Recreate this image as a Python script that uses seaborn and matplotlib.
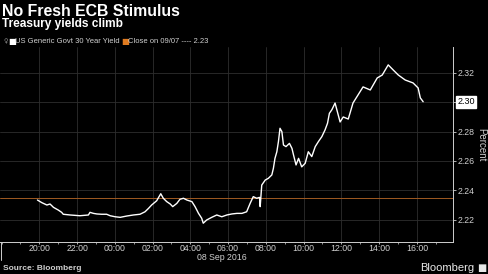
import matplotlib
matplotlib.use("Agg")
import matplotlib.pyplot as plt
import matplotlib.dates as mdates
import seaborn as sns
import pandas as pd
import numpy as np

# ---- data ----
times = [
    "2016-09-07 19:54", "2016-09-07 20:08", "2016-09-07 20:24", "2016-09-07 20:34",
    "2016-09-07 20:45", "2016-09-07 21:00", "2016-09-07 21:11", "2016-09-07 21:16",
    "2016-09-07 21:38", "2016-09-07 22:09", "2016-09-07 22:36", "2016-09-07 22:41",
    "2016-09-07 22:52", "2016-09-07 23:03", "2016-09-07 23:18", "2016-09-07 23:34",
    "2016-09-07 23:45", "2016-09-08 00:01", "2016-09-08 00:17", "2016-09-08 00:38",
    "2016-09-08 00:59", "2016-09-08 01:20", "2016-09-08 01:36", "2016-09-08 01:47",
    "2016-09-08 01:57", "2016-09-08 02:13", "2016-09-08 02:26", "2016-09-08 02:34",
    "2016-09-08 02:45", "2016-09-08 02:56", "2016-09-08 03:04", "2016-09-08 03:17",
    "2016-09-08 03:27", "2016-09-08 03:38", "2016-09-08 03:49", "2016-09-08 04:05",
    "2016-09-08 04:15", "2016-09-08 04:26", "2016-09-08 04:36", "2016-09-08 04:41",
    "2016-09-08 04:52", "2016-09-08 05:08", "2016-09-08 05:24", "2016-09-08 05:40",
    "2016-09-08 05:56", "2016-09-08 06:12", "2016-09-08 06:28", "2016-09-08 06:44",
    "2016-09-08 06:59", "2016-09-08 07:10", "2016-09-08 07:20", "2016-09-08 07:31",
    "2016-09-08 07:40", "2016-09-08 07:42", "2016-09-08 07:47", "2016-09-08 07:58",
    "2016-09-08 08:08", "2016-09-08 08:19", "2016-09-08 08:24", "2016-09-08 08:29",
    "2016-09-08 08:35", "2016-09-08 08:40", "2016-09-08 08:45", "2016-09-08 08:51",
    "2016-09-08 08:56", "2016-09-08 09:04", "2016-09-08 09:15", "2016-09-08 09:23",
    "2016-09-08 09:28", "2016-09-08 09:36", "2016-09-08 09:44", "2016-09-08 09:54",
    "2016-09-08 10:05", "2016-09-08 10:15", "2016-09-08 10:26", "2016-09-08 10:37",
    "2016-09-08 10:47", "2016-09-08 10:58", "2016-09-08 11:08", "2016-09-08 11:16",
    "2016-09-08 11:22", "2016-09-08 11:30", "2016-09-08 11:40", "2016-09-08 11:56",
    "2016-09-08 12:06", "2016-09-08 12:22", "2016-09-08 12:37", "2016-09-08 13:09",
    "2016-09-08 13:32", "2016-09-08 13:54", "2016-09-08 14:10", "2016-09-08 14:29",
    "2016-09-08 14:45", "2016-09-08 15:01", "2016-09-08 15:23", "2016-09-08 15:48",
    "2016-09-08 16:04", "2016-09-08 16:11", "2016-09-08 16:20",
]
yields = [
    2.2334, 2.2316, 2.2300, 2.2307,
    2.2284, 2.2266, 2.2250, 2.2237,
    2.2232, 2.2227, 2.2232, 2.2250,
    2.2243, 2.2239, 2.2237, 2.2237,
    2.2227, 2.2220, 2.2216, 2.2225,
    2.2232, 2.2237, 2.2254, 2.2277,
    2.2300, 2.2329, 2.2377, 2.2346,
    2.2323, 2.2307, 2.2289, 2.2311,
    2.2339, 2.2346, 2.2334, 2.2323,
    2.2289, 2.2243, 2.2210, 2.2176,
    2.2198, 2.2216, 2.2232, 2.2220,
    2.2232, 2.2239, 2.2243, 2.2243,
    2.2254, 2.2311, 2.2357, 2.2346,
    2.2352, 2.2289, 2.2436, 2.2470,
    2.2482, 2.2505, 2.2550, 2.2618,
    2.2663, 2.2732, 2.2823, 2.2800,
    2.2709, 2.2698, 2.2720, 2.2686,
    2.2641, 2.2573, 2.2618, 2.2560,
    2.2584, 2.2663, 2.2630, 2.2698,
    2.2732, 2.2766, 2.2811, 2.2857,
    2.2925, 2.2950, 2.2995, 2.2866,
    2.2900, 2.2886, 2.2995, 2.3105,
    2.3084, 2.3166, 2.3186, 2.3255,
    2.3220, 2.3186, 2.3152, 2.3132,
    2.3098, 2.3030, 2.3004,
]
prev_close = 2.235
series_label = "US Generic Govt 30 Year Yield"
close_label = "Close on 09/07 ---- 2.23"
y_ticks = [2.22, 2.24, 2.26, 2.28, 2.30, 2.32]
x_tick_times = ["2016-09-07 20:00", "2016-09-07 22:00", "2016-09-08 00:00",
                "2016-09-08 02:00", "2016-09-08 04:00", "2016-09-08 06:00",
                "2016-09-08 08:00", "2016-09-08 10:00", "2016-09-08 12:00",
                "2016-09-08 14:00", "2016-09-08 16:00"]
date_label = "08 Sep 2016"

df = pd.DataFrame({"time": pd.to_datetime(times), "yield": yields})

# ---- style ----
sns.set_theme(style="dark")
plt.rcParams["font.family"] = ["Liberation Sans", "DejaVu Sans"]
BG = "black"
GRID = "#2e2e2e"
TXT = "#d0d0d0"

fig = plt.figure(figsize=(4.88, 2.74), dpi=100, facecolor=BG)
ax = fig.add_axes([0.0, 0.1179, 0.9277, 0.7106], facecolor=BG)

sns.lineplot(data=df, x="time", y="yield", ax=ax, color="white", linewidth=1.0)
ax.axhline(prev_close, color="#a05a22", linewidth=0.7, zorder=1)

ax.set_xlim(pd.Timestamp("2016-09-07 17:55"), pd.Timestamp("2016-09-08 17:54"))
ax.set_ylim(2.205, 2.3377)

ax.set_xticks(pd.to_datetime(x_tick_times))
ax.xaxis.set_minor_locator(mdates.HourLocator())
ax.xaxis.set_major_formatter(mdates.DateFormatter("%H:%M"))

# last value shown in a box; its tick label is hidden under the box
last = yields[-1]
last_txt = f"{last:.2f}"
ax.set_yticks(y_ticks)
ax.set_yticklabels(["" if f"{v:.2f}" == last_txt else f"{v:.2f}"
                    for v in y_ticks])
ax.yaxis.tick_right()
ax.yaxis.set_label_position("right")

ax.grid(True, which="major", color=GRID, linewidth=0.6)
ax.tick_params(axis="y", which="major", colors=TXT, labelsize=6.3,
               length=2, width=0.6, pad=1.5, direction="out",
               right=True, left=False)
ax.tick_params(axis="x", which="major", colors=TXT, labelsize=6.3,
               length=1.5, width=0.6, pad=0.3, direction="out", bottom=True)
ax.tick_params(axis="x", which="minor", colors=TXT, length=1.2, width=0.5,
               bottom=True)
ax.set_xlabel("")
ax.set_ylabel("Percent", color=TXT, fontsize=7, rotation=270, labelpad=8)

for s in ["top", "left"]:
    ax.spines[s].set_visible(False)
for s in ["bottom", "right"]:
    ax.spines[s].set_visible(True)
    ax.spines[s].set_color("#cfcfcf")
    ax.spines[s].set_linewidth(0.7)

# small long tick at left edge of the axis
ax.plot([0.002, 0.002], [0, -0.095], transform=ax.transAxes, color="#cfcfcf",
        linewidth=0.7, clip_on=False)

ax.annotate(last_txt, xy=(1.0, last), xycoords=("axes fraction", "data"),
            xytext=(3.2, 0), textcoords="offset points", ha="left", va="center",
            fontsize=6.5, color="black", zorder=20, annotation_clip=False,
            bbox=dict(boxstyle="square,pad=0.18", facecolor="white",
                      edgecolor="white"))

# date label
fig.text(222 / 488, 1 - 257 / 274, date_label, color=TXT, fontsize=6.3,
         ha="center", va="center")

# titles
fig.text(2 / 488, 1 - 15.5 / 274, "No Fresh ECB Stimulus", color="white",
         fontsize=11.4, fontweight="bold", ha="left", va="baseline")
fig.text(2 / 488, 1 - 27 / 274, "Treasury yields climb", color="white",
         fontsize=8.6, fontweight="bold", ha="left", va="baseline")

# legend row
ly = 1 - 41.5 / 274
fig.text(3 / 488, ly, "\u2640", color="#888888", fontsize=4.5, ha="left",
         va="center", family=["DejaVu Sans"])
fig.text(8.5 / 488, ly, "\u25a0", color="white", fontsize=6, ha="left",
         va="center", family=["DejaVu Sans"])
fig.text(15 / 488, ly, series_label, color=TXT, fontsize=5.5, ha="left",
         va="center")
fig.text(121.5 / 488, ly, "\u25a0", color="#e07b20", fontsize=6, ha="left",
         va="center", family=["DejaVu Sans"])
fig.text(128 / 488, ly, close_label, color=TXT, fontsize=5.5, ha="left",
         va="center")

# footer
fig.text(3 / 488, 1 - 268.5 / 274, "Source: Bloomberg", color=TXT,
         fontsize=6, fontweight="bold", ha="left", va="center")
fig.text(474 / 488, 1 - 268 / 274, "Bloomberg", color="#e8e8e8",
         fontsize=8, ha="right", va="center")
fig.text(477 / 488, 1 - 267.5 / 274, "\u25a0", color="#e8e8e8", fontsize=7,
         ha="left", va="center", family=["DejaVu Sans"])

fig.savefig("out.png", dpi=100, facecolor=BG)
